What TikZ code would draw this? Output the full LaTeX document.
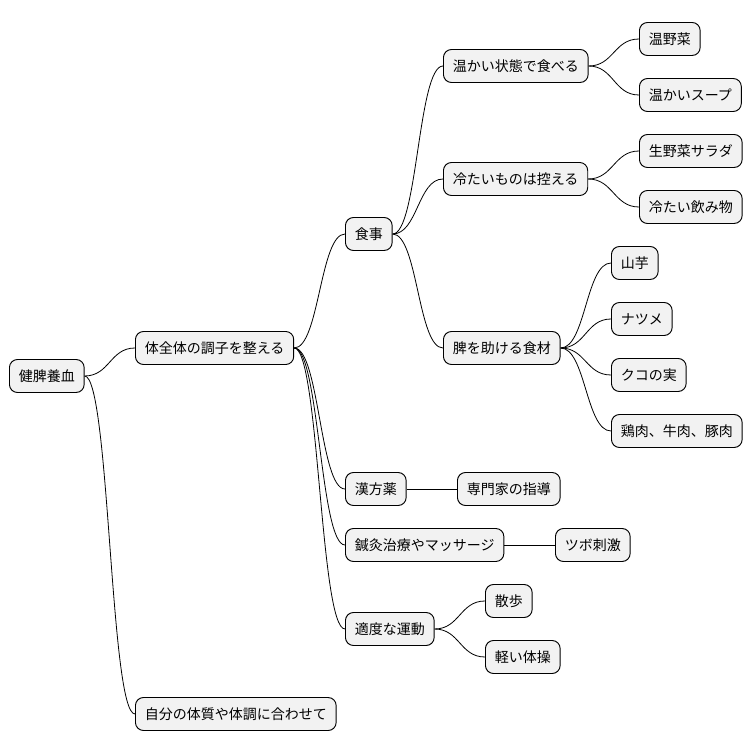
\documentclass[tikz,border=0pt]{standalone}
\usepackage{fontspec}
\setmainfont{Noto Sans CJK JP}
\begin{document}
\begin{tikzpicture}[x=0.75pt,y=-0.75pt,
  box/.style={draw=black,line width=0.7pt,fill=gray!10,rounded corners=6pt,anchor=west,
    minimum height=24.75pt,inner xsep=7pt,font=\fontsize{10.5pt}{12pt}\selectfont},
  link/.style={draw=black,line width=0.6pt}]
\useasboundingbox (0,0) rectangle (754,752);
\node[box] (r) at (9,376) {健脾養血};
\node[box] (a) at (135,348) {体全体の調子を整える};
\node[box] (b) at (135,714) {自分の体質や体調に合わせて};
\node[box] (s) at (345,234) {食事};
\node[box] (k) at (345,489) {漢方薬};
\node[box] (h) at (345,545) {鍼灸治療やマッサージ};
\node[box] (u) at (345,629) {適度な運動};
\node[box] (s1) at (443,66) {温かい状態で食べる};
\node[box] (s2) at (443,179) {冷たいものは控える};
\node[box] (s3) at (443,348) {脾を助ける食材};
\node[box] (t1) at (639,39) {温野菜};
\node[box] (t2) at (639,95) {温かいスープ};
\node[box] (t3) at (639,151) {生野菜サラダ};
\node[box] (t4) at (639,207) {冷たい飲み物};
\node[box] (f1) at (611,263) {山芋};
\node[box] (f2) at (611,319) {ナツメ};
\node[box] (f3) at (611,375) {クコの実};
\node[box] (f4) at (611,431) {鶏肉、牛肉、豚肉};
\node[box] (k1) at (457,489) {専門家の指導};
\node[box] (h1) at (555,545) {ツボ刺激};
\node[box] (u1) at (485,601) {散歩};
\node[box] (u2) at (485,657) {軽い体操};
\foreach \p/\c in {r/a,r/b,a/s,a/k,a/h,a/u,s/s1,s/s2,s/s3,s1/t1,s1/t2,s2/t3,s2/t4,s3/f1,s3/f2,s3/f3,s3/f4,k/k1,h/h1,u/u1,u/u2}
  \draw[link] (\p.east) .. controls +(25,0) and +(-25,0) .. (\c.west);
\end{tikzpicture}
\end{document}
